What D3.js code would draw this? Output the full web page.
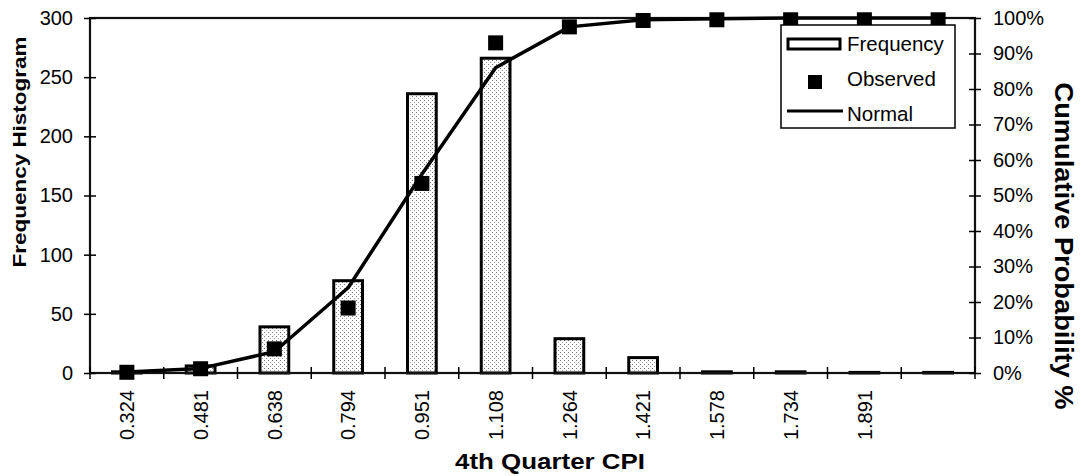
<!DOCTYPE html>
<html><head><meta charset="utf-8">
<script src="https://cdn.jsdelivr.net/npm/d3@7"></script>
<style>
html,body{margin:0;padding:0;background:#fff;}
svg text{font-family:"Liberation Sans",Arial,Helvetica,sans-serif;fill:#000;}
</style></head>
<body>
<svg id="chart" width="1081" height="476"></svg>
<script>
// ---- data ----
const categories = ["0.324","0.481","0.638","0.794","0.951","1.108","1.264","1.421","1.578","1.734","1.891",""];
const frequency  = [1, 6, 39, 78, 236, 266, 29, 13, 1, 1, 0.5, 0.5];
const observed   = [0.2, 1.2, 6.8, 18.3, 53.4, 93.0, 97.5, 99.3, 99.5, 99.5, 99.5, 99.5];
const normal     = [0.3, 1.3, 6.0, 24.0, 56.0, 86.0, 97.5, 99.5, 99.8, 100, 100, 100];
const leftTicks  = [0, 50, 100, 150, 200, 250, 300];
const rightTicks = [0,10,20,30,40,50,60,70,80,90,100];
const legendItems = ["Frequency","Observed","Normal"];

const svg = d3.select("#chart");
const L = 90, R = 975, T = 18, B = 373;

const x = d3.scaleBand().domain(categories).range([L, R]).paddingInner(0).paddingOuter(0);
const yL = d3.scaleLinear().domain([0, 300]).range([B, T]);
const yR = d3.scaleLinear().domain([0, 100]).range([B, T]);

// pattern for stippled bars
const defs = svg.append("defs");
const pat = defs.append("pattern").attr("id","stip").attr("width",4).attr("height",4)
  .attr("patternUnits","userSpaceOnUse");
pat.append("rect").attr("width",4).attr("height",4).attr("fill","#fff");
pat.append("rect").attr("x",0).attr("y",0).attr("width",1).attr("height",1).attr("fill","#777");
pat.append("rect").attr("x",2).attr("y",2).attr("width",1).attr("height",1).attr("fill","#999");

// bars
const bw = x.bandwidth() * 0.39;
svg.append("g").selectAll("rect").data(categories).join("rect")
  .attr("x", (d) => x(d) + x.bandwidth()/2 - bw/2)
  .attr("y", (d,i) => yL(frequency[i]))
  .attr("width", bw)
  .attr("height", (d,i) => B - yL(frequency[i]))
  .attr("fill","url(#stip)")
  .attr("stroke","#000").attr("stroke-width",3);

// frame
svg.append("rect").attr("x",L).attr("y",T).attr("width",R-L).attr("height",B-T)
  .attr("fill","none").attr("stroke","#111").attr("stroke-width",2.2);

// left axis
const gL = svg.append("g").attr("transform",`translate(${L},0)`)
  .call(d3.axisLeft(yL).tickValues(leftTicks).tickSize(6).tickPadding(11));
gL.select(".domain").remove();
gL.selectAll(".tick line").attr("x1",-6).attr("x2",6).attr("stroke","#000").attr("stroke-width",1.5);
gL.selectAll(".tick text").attr("font-size",20).attr("font-family","Liberation Sans, Arial, sans-serif");

// right axis
const gR = svg.append("g").attr("transform",`translate(${R},0)`)
  .call(d3.axisRight(yR).tickValues(rightTicks).tickSize(6).tickPadding(12).tickFormat(d => d + "%"));
gR.select(".domain").remove();
gR.selectAll(".tick line").attr("x1",-6).attr("x2",6).attr("stroke","#000").attr("stroke-width",1.5);
gR.selectAll(".tick text").attr("font-size",20).attr("font-family","Liberation Sans, Arial, sans-serif");

// bottom axis: boundary ticks and rotated labels
const bounds = categories.map(c => x(c)).concat([x.range()[1]]);
svg.append("g").selectAll("line").data(bounds).join("line")
  .attr("x1", d => d).attr("x2", d => d).attr("y1", B-6).attr("y2", B+6)
  .attr("stroke","#000").attr("stroke-width",1.5);
const gB = svg.append("g").attr("transform",`translate(0,${B})`)
  .call(d3.axisBottom(x).tickSize(0).tickPadding(0));
gB.select(".domain").remove();
gB.selectAll(".tick text")
  .attr("font-size",20).attr("font-family","Liberation Sans, Arial, sans-serif")
  .attr("text-anchor","end")
  .attr("transform","translate(0,17) rotate(-90)")
  .attr("x",0).attr("y",0).attr("dy","0.36em");

// normal line
const line = d3.line()
  .x((d,i) => x(categories[i]) + x.bandwidth()/2)
  .y(d => yR(d));
svg.append("path").datum(normal).attr("d", line)
  .attr("fill","none").attr("stroke","#000").attr("stroke-width",3.5).attr("stroke-linejoin","round");

// observed markers
const ms = 15;
svg.append("g").selectAll("rect").data(observed).join("rect")
  .attr("x", (d,i) => x(categories[i]) + x.bandwidth()/2 - ms/2)
  .attr("y", d => yR(d) - ms/2)
  .attr("width", ms).attr("height", ms).attr("fill","#000");

// axis titles
svg.append("text").attr("transform","translate(26,152) rotate(-90)")
  .attr("text-anchor","middle").attr("font-weight","bold").attr("font-size",19)
  .attr("textLength",231).attr("lengthAdjust","spacingAndGlyphs")
  .text("Frequency Histogram");
svg.append("text").attr("transform","translate(1055,246) rotate(90)")
  .attr("text-anchor","middle").attr("font-weight","bold").attr("font-size",25)
  .attr("textLength",327).attr("lengthAdjust","spacingAndGlyphs")
  .text("Cumulative  Probability %");
svg.append("text").attr("x",550).attr("y",469)
  .attr("text-anchor","middle").attr("font-weight","bold").attr("font-size",22)
  .attr("textLength",190).attr("lengthAdjust","spacingAndGlyphs")
  .text("4th Quarter CPI");

// legend
const lg = svg.append("g");
lg.append("rect").attr("x",781).attr("y",25).attr("width",174).attr("height",103)
  .attr("fill","#fff").attr("stroke","#000").attr("stroke-width",1.5);
lg.append("rect").attr("x",788).attr("y",39).attr("width",52).attr("height",10)
  .attr("fill","#fff").attr("stroke","#000").attr("stroke-width",3);
lg.append("rect").attr("x",808).attr("y",75).attr("width",14).attr("height",14).attr("fill","#000");
lg.append("line").attr("x1",787).attr("x2",843).attr("y1",111).attr("y2",111)
  .attr("stroke","#000").attr("stroke-width",3);
lg.selectAll("text.leg").data(legendItems).join("text").attr("class","leg")
  .attr("x",847).attr("y",(d,i) => 51 + i*35)
  .attr("font-size",20.5).text(d => d);
</script>
</body></html>
